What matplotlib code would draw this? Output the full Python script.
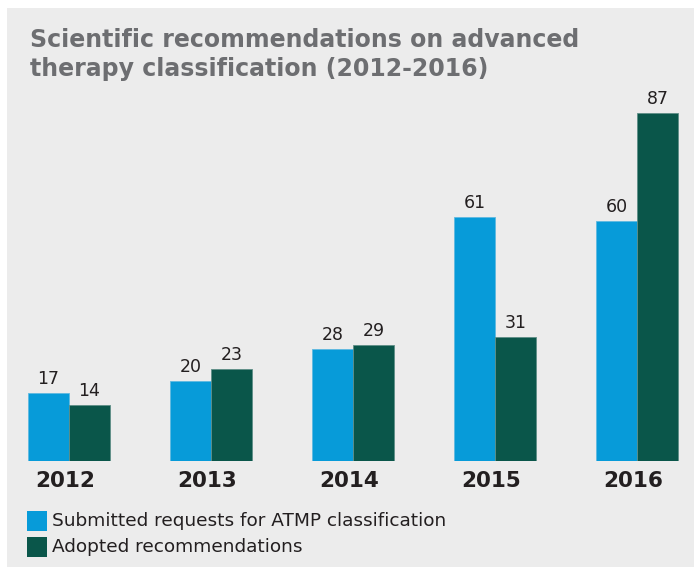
import numpy as np
import matplotlib.pyplot as plt
from matplotlib.patches import Rectangle

years = ["2012", "2013", "2014", "2015", "2016"]
submitted = [17, 20, 28, 61, 60]
adopted = [14, 23, 29, 31, 87]
legend_labels = ["Submitted requests for ATMP classification",
                 "Adopted recommendations"]
title_lines = ["Scientific recommendations on advanced",
               "therapy classification (2012-2016)"]

blue = "#079bd9"
green = "#0a564a"
bg = "#ececec"
dark = "#231f20"
grey = "#6d6e71"

W, H = 694, 567
fig = plt.figure(figsize=(W / 100, H / 100), dpi=100, facecolor="white")
fig.patches.append(Rectangle((7 / W, 0), 1 - 7 / W, 1 - 8 / H,
                             transform=fig.transFigure, facecolor=bg,
                             edgecolor="none", zorder=-10))

# axes: baseline at pixel 461, 4 px per unit, groups 142 px apart
ax = fig.add_axes([7 / W, (H - 461) / H, (W - 7) / W, 361 / H])
ax.set_facecolor("none")
ax.set_xlim((7 - 69) / 142, (W - 69) / 142)
ax.set_ylim(0, 361 / 4)
for s in ax.spines.values():
    s.set_visible(False)
ax.set_xticks([])
ax.set_yticks([])

x = np.arange(len(years))
w = 41 / 142
b1 = ax.bar(x - w / 2, submitted, w, color=blue, edgecolor="#5fb9e0", linewidth=0.6)
b2 = ax.bar(x + w / 2, adopted, w, color=green, edgecolor="#5f8f87", linewidth=0.6)

for bars, vals in ((b1, submitted), (b2, adopted)):
    for r, v in zip(bars, vals):
        ax.annotate(str(v), (r.get_x() + r.get_width() / 2, v),
                    xytext=(0, 6.5), textcoords="offset points",
                    ha="center", va="baseline", fontsize=12.5, color=dark)

for xi, yr in zip(x, years):
    ax.annotate(yr, (xi, 0), xytext=(-3, -7), textcoords="offset points",
                ha="center", va="top", fontsize=15.5, fontweight="bold",
                color=dark)

for i, line in enumerate(title_lines):
    fig.text(30 / W, 1 - (47 + 29 * i) / H, line, fontsize=17,
             fontweight="bold", color=grey, ha="left", va="baseline")

for i, (lab, col) in enumerate(zip(legend_labels, [blue, green])):
    y0 = 511 + i * 26
    fig.patches.append(Rectangle((27 / W, 1 - (y0 + 20) / H), 20 / W, 20 / H,
                                 transform=fig.transFigure, facecolor=col,
                                 edgecolor="none"))
    fig.text(52 / W, 1 - (y0 + 10) / H, lab, fontsize=13.3, color=dark,
             ha="left", va="center")

fig.savefig("out.png", dpi=100, facecolor="white")
